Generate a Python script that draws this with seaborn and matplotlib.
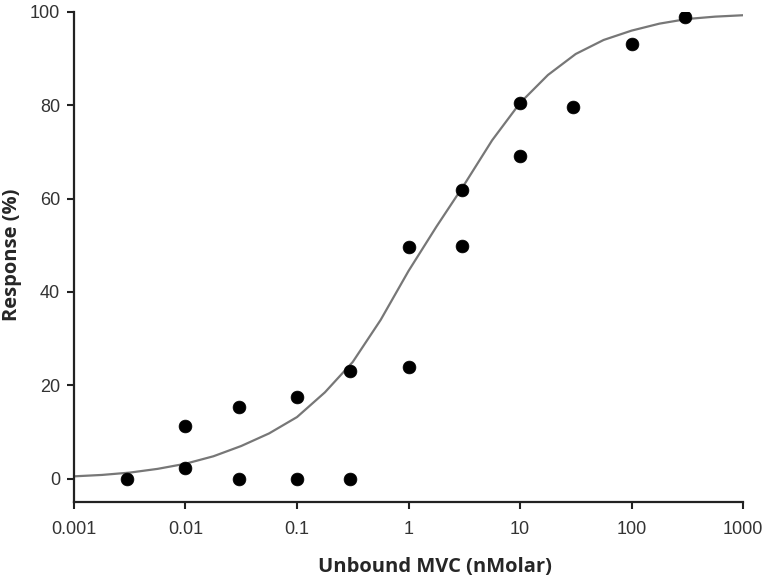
import numpy as np
import pandas as pd
import matplotlib
matplotlib.use("Agg")
import matplotlib.pyplot as plt
from matplotlib.ticker import FixedLocator, FixedFormatter
import seaborn as sns

# observed responses
conc = [0.003, 0.01, 0.01, 0.03, 0.03, 0.1, 0.1, 0.3, 0.3, 1, 1,
        3, 3, 10, 10, 30, 100, 300]
response = [0, 11.3, 2.3, 15.4, 0, 17.4, 0, 23, 0, 49.6, 24,
            61.8, 49.9, 80.5, 69.1, 79.6, 93.1, 99]

# fitted curve at quarter decades
curve_x = [0.001, 0.00178, 0.00316, 0.00562, 0.01, 0.0178, 0.0316, 0.0562,
           0.1, 0.178, 0.316, 0.562, 1, 1.78, 3.16, 5.62, 10, 17.8, 31.6,
           56.2, 100, 178, 316, 562, 1000]
curve_y = [0.5, 0.8, 1.3, 2.1, 3.2, 4.8, 7.0, 9.7, 13.2, 18.5, 25.0, 34.0,
           44.5, 54.0, 63.0, 72.5, 80.5, 86.5, 91.0, 94.0, 96.0, 97.5, 98.5,
           99.0, 99.3]

xticks = [0.001, 0.01, 0.1, 1, 10, 100, 1000]
xtick_labels = ["0.001", "0.01", "0.1", "1", "10", "100", "1000"]
yticks = [0, 20, 40, 60, 80, 100]

sns.set_style("ticks")
plt.rcParams["font.family"] = ["Liberation Sans", "DejaVu Sans"]

fig = plt.figure(figsize=(7.66, 5.84), dpi=100)
ax = fig.add_axes([0.0966, 0.1404, 0.8734, 0.8391])

obs = pd.DataFrame({"conc": conc, "response": response})
fit = pd.DataFrame({"conc": curve_x, "response": curve_y})

sns.lineplot(data=fit, x="conc", y="response", ax=ax, color="#777777",
             linewidth=1.6, zorder=2)
sns.scatterplot(data=obs, x="conc", y="response", ax=ax, color="black",
                s=85, edgecolor="black", linewidth=0.5, zorder=3)

ax.set_xscale("log")
ax.set_xlim(0.001, 1000)
ax.set_ylim(-5, 100)
ax.xaxis.set_major_locator(FixedLocator(xticks))
ax.xaxis.set_major_formatter(FixedFormatter(xtick_labels))
ax.xaxis.set_minor_locator(FixedLocator([]))
ax.set_yticks(yticks)

sns.despine(ax=ax)
for side in ["left", "bottom"]:
    ax.spines[side].set_linewidth(1.6)
    ax.spines[side].set_color("#222222")
ax.tick_params(axis="both", direction="out", length=5, width=1.5,
               color="#222222", labelsize=13, labelcolor="#333333")
ax.tick_params(axis="x", pad=9)
ax.tick_params(axis="y", pad=5)

ax.set_xlabel("Unbound MVC (nMolar)", fontsize=14.5, fontweight="bold",
              family=["Open Sans", "DejaVu Sans"])
ax.set_ylabel("Response (%)", fontsize=14.5, fontweight="bold",
              family=["Open Sans", "DejaVu Sans"])
ax.xaxis.set_label_coords(0.54, -0.112)
ax.yaxis.set_label_coords(-0.077, 0.505)

fig.savefig("out.png", dpi=100)
